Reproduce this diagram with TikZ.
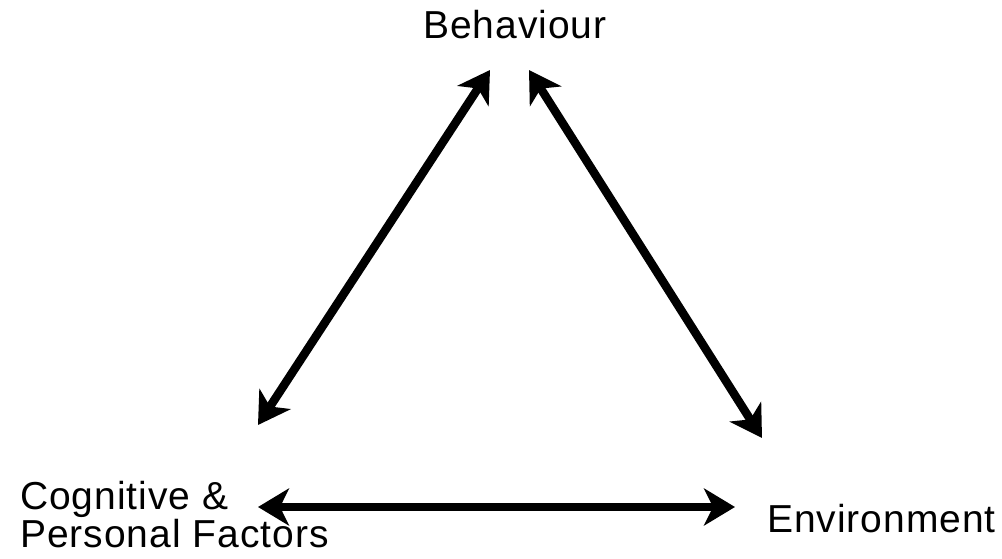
\documentclass[tikz,border=0pt]{standalone}
\usepackage{fontspec}
\setmainfont[LetterSpace=2.5]{Liberation Sans}
\usetikzlibrary{arrows.meta}
\begin{document}
\begin{tikzpicture}[x=1pt, y=-1pt,
    factor/.style={inner sep=0pt, font=\fontsize{39}{38}\selectfont},
    link/.style={{Stealth[length=31pt, width=37pt, inset=9pt]}-{Stealth[length=31pt, width=37pt, inset=9pt]}, line width=8.5pt}]
    % Frame
    \useasboundingbox (0, 0) rectangle (1002, 559);

    % Labels
    \node [factor, anchor=base] (beh) at (515, 39) {Behaviour};
    \node [factor, anchor=north west, align=left] (cog) at (20, 481) {Cognitive \&\\Personal Factors};
    \node [factor, anchor=base west] (env) at (767, 532) {Environment};

    % Arrow ends
    \coordinate (bl) at (490, 70);
    \coordinate (br) at (529, 70);
    \coordinate (cu) at (258, 425);
    \coordinate (cr) at (258, 507);
    \coordinate (eu) at (762, 438);
    \coordinate (el) at (735, 507);

    \draw [link] (cu) -- (bl);
    \draw [link] (br) -- (eu);
    \draw [link] (cr) -- (el);

\end{tikzpicture}
\end{document}
